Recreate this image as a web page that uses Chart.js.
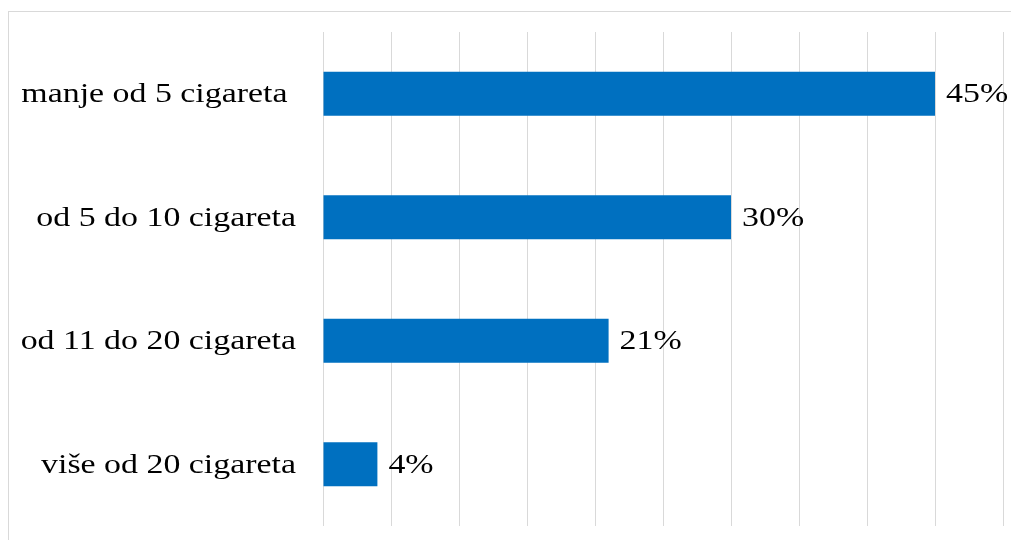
<!DOCTYPE html>
<html>
<head>
<meta charset="utf-8">
<script src="https://cdn.jsdelivr.net/npm/chart.js@4"></script>
<style>
  html, body { margin: 0; padding: 0; background: #fff; overflow: hidden; }
  #frame {
    position: absolute; left: 8px; top: 11px; width: 1100px; height: 600px;
    border: 1px solid #d9d9d9; box-sizing: border-box;
  }
  #wrap { position: absolute; left: 0; top: 0; width: 1011px; height: 540px; }
</style>
</head>
<body>
<div id="frame"></div>
<div id="wrap"><canvas id="chart"></canvas></div>
<script>
// --- data ---
const categories = ["manje od 5 cigareta ", "od 5 do 10 cigareta", "od 11 do 20 cigareta", "više od 20 cigareta"];
const percentValues = [45, 30, 21, 4];
const axisMax = 50;
const axisStep = 5;

// the source picture is a bit wider than tall, so text is stretched too
const FONT = "28px 'Liberation Serif', 'Times New Roman', serif";
const STRETCH = 1.21;

function stretchedText(ctx, text, x, y, align) {
  ctx.save();
  ctx.translate(x, y);
  ctx.scale(STRETCH, 1);
  ctx.textAlign = align;
  ctx.fillText(text, 0, 0);
  ctx.restore();
}

// category labels on the left + value labels next to the bar ends
const textLabels = {
  id: "textLabels",
  afterDatasetsDraw(chart) {
    const ctx = chart.ctx;
    const yScale = chart.scales.y;
    const meta = chart.getDatasetMeta(0);
    ctx.save();
    ctx.font = FONT;
    ctx.fillStyle = "#000";
    ctx.textBaseline = "middle";
    categories.forEach((cat, i) => {
      stretchedText(ctx, cat, chart.chartArea.left - 27, yScale.getPixelForTick(i) + 1, "right");
    });
    meta.data.forEach((bar, i) => {
      stretchedText(ctx, percentValues[i] + "%", bar.x + 11, bar.y + 1, "left");
    });
    ctx.restore();
  },
};

new Chart(document.getElementById("chart").getContext("2d"), {
  type: "bar",
  data: {
    labels: categories,
    datasets: [
      {
        data: percentValues,
        backgroundColor: "#0070c0",
        borderWidth: 0,
        barPercentage: 0.356,
        categoryPercentage: 1,
      },
    ],
  },
  options: {
    indexAxis: "y",
    responsive: true,
    maintainAspectRatio: false,
    animation: false,
    layout: { padding: { left: 0, right: 8, top: 32, bottom: 14 } },
    plugins: { legend: { display: false }, tooltip: { enabled: false } },
    scales: {
      x: {
        min: 0,
        max: axisMax,
        ticks: { display: false, stepSize: axisStep },
        grid: { color: "#d9d9d9", lineWidth: 1, drawTicks: false },
        border: { display: false },
        afterFit: (s) => { s.height = 0; },
      },
      y: {
        grid: { display: false, drawTicks: false },
        border: { display: false },
        ticks: { display: false },
        afterFit: (s) => { s.width = 323; },
      },
    },
  },
  plugins: [textLabels],
});
</script>
</body>
</html>
